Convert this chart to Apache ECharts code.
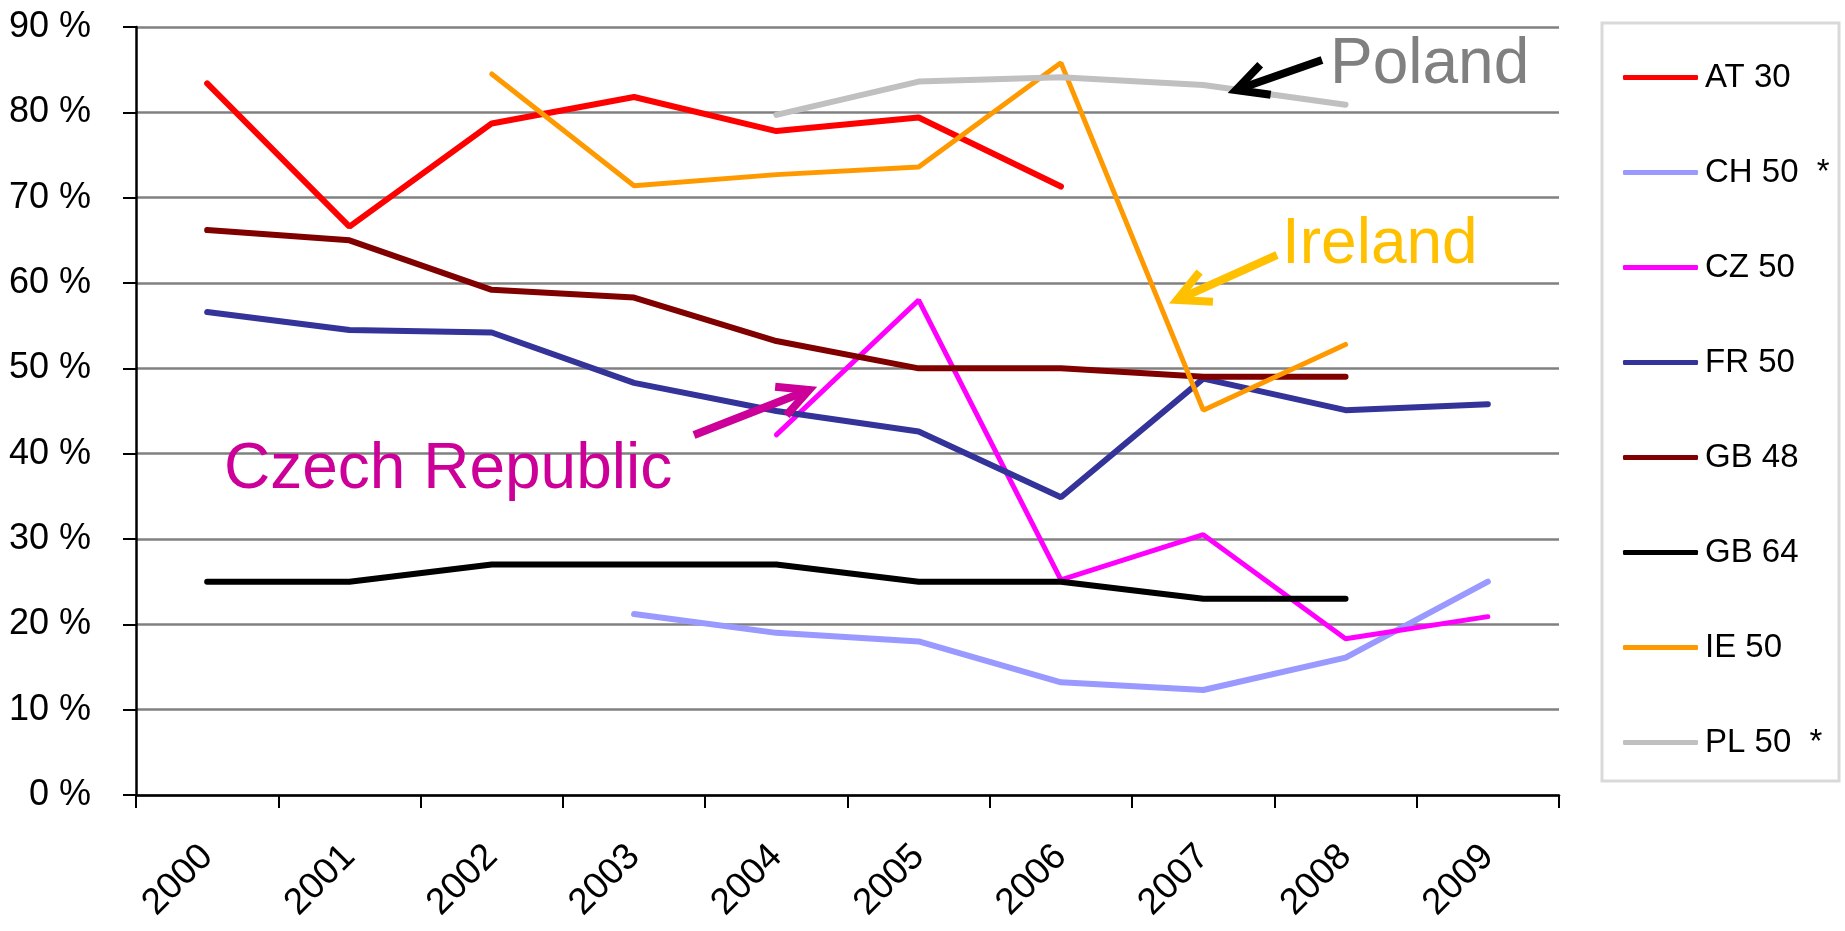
<!DOCTYPE html>
<html>
<head>
<meta charset="utf-8">
<title>Participation rates</title>
<script src="https://cdn.jsdelivr.net/npm/echarts@6.0.0/dist/echarts.min.js"></script>
<style>
  html, body {
    margin: 0;
    padding: 0;
    background: #fff;
  }
  #chart {
    width: 1845px;
    height: 931px;
  }
</style>
</head>
<body>
<div id="chart"></div>
<script>
// data (percent), null = no value that year
const years = ['2000', '2001', '2002', '2003', '2004', '2005', '2006', '2007', '2008', '2009']
const at30 = [83.4, 66.6, 78.7, 81.8, 77.8, 79.4, 71.3, null, null, null]
const ch50 = [null, null, null, 21.2, 19.0, 18.0, 13.2, 12.3, 16.1, 25.0]
const cz50 = [null, null, null, null, 42.2, 58.0, 25.2, 30.5, 18.3, 20.9]
const fr50 = [56.6, 54.5, 54.2, 48.3, 45.0, 42.6, 34.9, 48.8, 45.1, 45.8]
const gb48 = [66.2, 65.0, 59.2, 58.3, 53.2, 50.0, 50.0, 49.0, 49.0, null]
const gb64 = [25, 25, 27, 27, 27, 25, 25, 23, 23, null]
const ie50 = [null, null, 84.5, 71.4, 72.7, 73.6, 85.8, 45.1, 52.8, null]
const pl50 = [null, null, null, null, 79.7, 83.6, 84.1, 83.2, 80.9, null]

const seriesList = [
  { name: 'AT 30', data: at30, color: '#FF0000', width: 6 },
  { name: 'CH 50  *', data: ch50, color: '#9999FF', width: 6 },
  { name: 'CZ 50', data: cz50, color: '#FF00FF', width: 5 },
  { name: 'FR 50', data: fr50, color: '#333399', width: 6 },
  { name: 'GB 48', data: gb48, color: '#800000', width: 6 },
  { name: 'GB 64', data: gb64, color: '#000000', width: 6 },
  { name: 'IE 50', data: ie50, color: '#FF9900', width: 5 },
  { name: 'PL 50  *', data: pl50, color: '#C0C0C0', width: 6 }
]

const font = "'Liberation Sans', Arial, sans-serif"

// arrow = shaft + open head, tail -> tip
function arrow(tail, tip, color, width, headLen) {
  const ang = Math.atan2(tail[1] - tip[1], tail[0] - tip[0])
  const spread = Math.PI * 27 / 180
  const w1 = [tip[0] + headLen * Math.cos(ang + spread), tip[1] + headLen * Math.sin(ang + spread)]
  const w2 = [tip[0] + headLen * Math.cos(ang - spread), tip[1] + headLen * Math.sin(ang - spread)]
  const style = { stroke: color, lineWidth: width, fill: null, lineCap: 'butt', lineJoin: 'miter' }
  return [
    { type: 'polyline', shape: { points: [tail, tip] }, style: style, z: 100 },
    { type: 'polyline', shape: { points: [w1, tip, w2] }, style: style, z: 100 }
  ]
}

function label(text, x, y, color) {
  return {
    type: 'text',
    x: x,
    y: y,
    z: 100,
    style: {
      text: text,
      fill: color,
      font: '64px ' + font,
      textVerticalAlign: 'middle'
    }
  }
}

const chart = echarts.init(document.getElementById('chart'))

const option = {
  animation: false,
  backgroundColor: '#ffffff',
  grid: {
    left: 136,
    right: 286,
    top: 27,
    bottom: 136,
    outerBoundsMode: 'none'
  },
  legend: {
    orient: 'vertical',
    left: 1618,
    top: 56,
    itemWidth: 75,
    itemHeight: 5,
    itemGap: 62,
    icon: 'roundRect',
    textStyle: {
      fontFamily: font,
      fontSize: 33,
      color: '#000',
      padding: [0, 0, 0, 2]
    },
    data: seriesList.map(s => s.name)
  },
  xAxis: {
    type: 'category',
    data: years,
    boundaryGap: true,
    axisLine: { lineStyle: { color: '#000', width: 2.5 } },
    axisTick: { show: true, length: 13, lineStyle: { color: '#000', width: 2 } },
    axisLabel: {
      rotate: 45,
      margin: 56,
      fontFamily: font,
      fontSize: 37,
      color: '#000'
    },
    splitLine: { show: false }
  },
  yAxis: {
    type: 'value',
    min: 0,
    max: 90,
    interval: 10,
    axisLine: { show: true, lineStyle: { color: '#000', width: 2.5 } },
    axisTick: { show: true, length: 13, lineStyle: { color: '#000', width: 2 } },
    axisLabel: {
      formatter: '{value} %',
      margin: 45,
      fontFamily: font,
      fontSize: 36,
      color: '#000'
    },
    splitLine: { lineStyle: { color: '#808080', width: 2.5 } }
  },
  series: seriesList.map(s => ({
    name: s.name,
    type: 'line',
    data: s.data,
    symbol: 'none',
    color: s.color,
    lineStyle: { color: s.color, width: s.width, cap: 'round' }
  })),
  graphic: [
    {
      type: 'rect',
      shape: { x: 1602, y: 23, width: 237, height: 758 },
      style: { stroke: '#D9D9D9', lineWidth: 3, fill: null }
    },
    label('Poland', 1330, 65, '#808080'),
    label('Ireland', 1282, 245, '#FFC000'),
    label('Czech Republic', 224, 470, '#CC0099'),
    ...arrow([1322, 60], [1236, 90], '#000000', 8, 35),
    ...arrow([1277, 255], [1177, 300], '#FFC000', 8, 36),
    ...arrow([694, 435], [809, 390], '#CC0099', 8, 34)
  ]
}

chart.setOption(option)
</script>
</body>
</html>
